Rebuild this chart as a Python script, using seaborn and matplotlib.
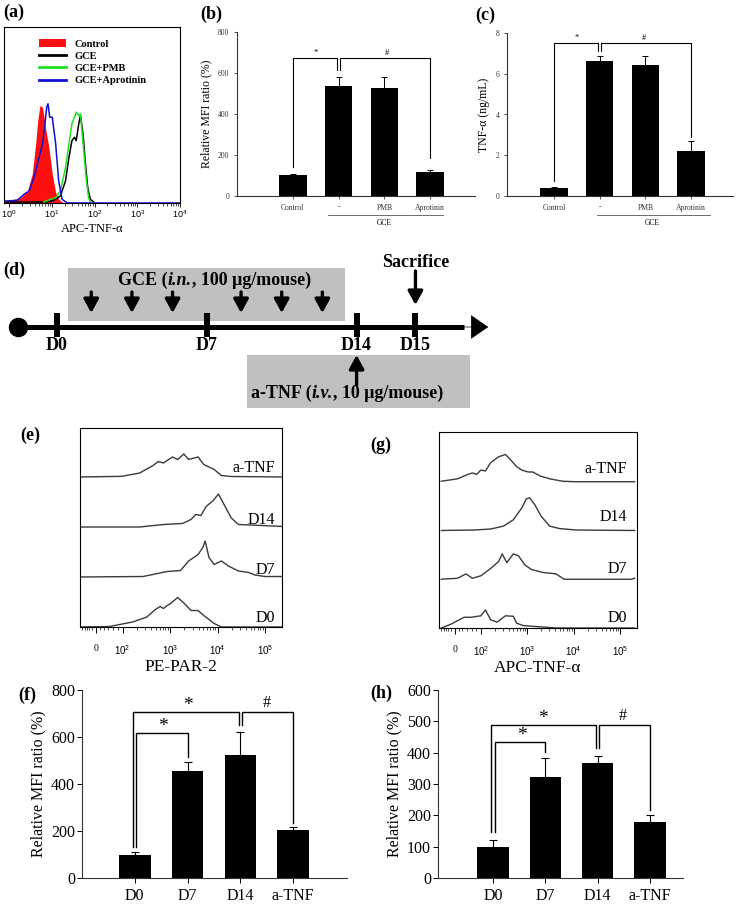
import numpy as np
import matplotlib
matplotlib.use("Agg")
import matplotlib.pyplot as plt
import seaborn as sns
from matplotlib.patches import Patch, Rectangle
from matplotlib.lines import Line2D

# ---------------- data ----------------
# (a) flow histograms, x = log10(APC-TNF-a), y = events (a.u.)
a_ctrl_x = [-0.08, 0.12, 0.27, 0.43, 0.54, 0.62, 0.67, 0.72, 0.78, 0.85, 0.93, 1.01, 1.09, 1.16, 1.28]
a_ctrl_y = [2, 3.7, 5.3, 12, 28.7, 58.7, 82, 97, 95.3, 75.3, 55.3, 28.7, 10.3, 3.7, 0]
a_gce_x = [-0.1, 0.89, 1.05, 1.20, 1.32, 1.40, 1.47, 1.53, 1.57, 1.63, 1.67, 1.73, 1.78, 1.84, 1.90, 1.98]
a_gce_y = [1, 1, 2.7, 7, 22, 45.3, 62, 65.3, 62, 78.7, 87, 68.7, 42, 15.3, 3.7, 1]
a_pmb_x = [0.81, 0.97, 1.09, 1.20, 1.32, 1.40, 1.47, 1.53, 1.57, 1.63, 1.67, 1.74, 1.81, 1.86, 1.90]
a_pmb_y = [1, 3.7, 5.3, 12, 35.3, 58.7, 78.7, 85.3, 90.3, 87, 88.7, 55.3, 22, 5.3, 1]
a_apr_x = [-0.08, 0.19, 0.35, 0.47, 0.58, 0.70, 0.78, 0.83, 0.88, 0.91, 0.95, 1.01, 1.09, 1.16, 1.24, 1.36, 4.0]
a_apr_y = [2, 2.7, 8.7, 12, 25.3, 45.3, 58.7, 75.3, 95.3, 98.7, 85.3, 85.3, 58.7, 22, 3.7, 0, 0]

# (b) relative MFI ratio
b_groups = ["Control", "-", "PMB", "Aprotinin"]
b_mean = [100, 535, 525, 115]
b_err = [6, 45, 55, 10]

# (c) TNF-a (ng/mL)
c_groups = ["Control", "-", "PMB", "Aprotinin"]
c_mean = [0.38, 6.65, 6.45, 2.2]
c_err = [0.08, 0.2, 0.4, 0.5]

# (d) timeline (days)
tl_labels = ["D0", "D7", "D14", "D15"]
tl_pos = [0, 7, 14, 16.75]
gce_doses = [1.6, 3.5, 5.4, 8.6, 10.5, 12.4]
gce_window = (0.51, 13.46)
atnf_window = (8.88, 19.3)
gce_text = [("GCE (", "normal"), ("i.n.", "italic"), (", 100 μg/mouse)", "normal")]
atnf_text = [("a-TNF (", "normal"), ("i.v.", "italic"), (", 10 μg/mouse)", "normal")]

# (e) PE-PAR-2 histograms, x = decade position, y = normalised height
e_tracks = ["D0", "D7", "D14", "a-TNF"]
e_x = [
    [1.08, 1.72, 2.21, 2.51, 2.69, 2.79, 2.86, 2.94, 3.01, 3.16, 3.29, 3.44, 3.59, 3.71, 3.93, 4.08, 5.4],
    [1.08, 2.43, 2.94, 3.22, 3.39, 3.59, 3.69, 3.74, 3.82, 3.93, 4.08, 4.23, 4.44, 4.66, 4.79, 5.0, 5.4],
    [1.08, 2.36, 2.86, 3.26, 3.44, 3.54, 3.65, 3.76, 3.91, 4.02, 4.12, 4.29, 4.44, 4.93, 5.4],
    [1.08, 1.98, 2.36, 2.64, 2.75, 2.86, 3.05, 3.16, 3.29, 3.39, 3.59, 3.71, 3.93, 4.08, 4.29, 5.4],
]
e_y = [
    [0, 0.01, 0.1, 0.2, 0.35, 0.41, 0.37, 0.43, 0.47, 0.59, 0.48, 0.33, 0.33, 0.23, 0.07, 0, 0],
    [0, 0.01, 0.11, 0.13, 0.32, 0.45, 0.59, 0.72, 0.39, 0.25, 0.32, 0.22, 0.12, 0.09, 0.04, 0.01, 0.01],
    [0, 0, 0.05, 0.07, 0.15, 0.25, 0.23, 0.41, 0.53, 0.66, 0.48, 0.18, 0.05, 0.03, 0.01],
    [0, 0.013, 0.08, 0.23, 0.31, 0.28, 0.4, 0.35, 0.46, 0.35, 0.4, 0.25, 0.15, 0.03, 0.01, 0],
]

# (g) APC-TNF-a histograms
g_x = [
    [1.15, 1.36, 1.64, 1.79, 2.0, 2.10, 2.21, 2.35, 2.53, 2.70, 2.77, 2.91, 3.33, 3.62, 5.31],
    [1.15, 1.50, 1.68, 1.82, 2.0, 2.21, 2.38, 2.46, 2.56, 2.70, 2.81, 2.95, 3.09, 3.33, 3.62, 3.79, 4.18, 5.24, 5.31],
    [1.15, 1.86, 2.21, 2.49, 2.70, 2.88, 2.98, 3.05, 3.16, 3.30, 3.48, 3.69, 4.04, 5.31],
    [1.15, 1.50, 1.72, 1.82, 1.91, 2.0, 2.10, 2.21, 2.38, 2.53, 2.63, 2.77, 2.88, 3.02, 3.12, 3.27, 3.48, 3.76, 4.04, 5.31],
]
g_y = [
    [0, 0.08, 0.22, 0.22, 0.25, 0.37, 0.17, 0.12, 0.25, 0.24, 0.1, 0.05, 0.02, 0, 0],
    [0, 0.02, 0.11, 0.02, 0.07, 0.22, 0.36, 0.52, 0.34, 0.52, 0.48, 0.29, 0.2, 0.14, 0.11, 0, 0, 0, 0.02],
    [0, 0.01, 0.03, 0.09, 0.22, 0.46, 0.65, 0.67, 0.53, 0.29, 0.09, 0.04, 0.01, 0],
    [0.01, 0.06, 0.15, 0.18, 0.15, 0.24, 0.22, 0.39, 0.51, 0.56, 0.46, 0.31, 0.24, 0.2, 0.2, 0.12, 0.06, 0.01, 0, 0],
]

# (f) PAR-2 relative MFI, (h) TNF-a relative MFI
days = ["D0", "D7", "D14", "a-TNF"]
f_mean = [100, 455, 522, 205]
f_err = [10, 40, 100, 12]
h_mean = [100, 322, 368, 180]
h_err = [22, 60, 20, 20]

# ---------------- style ----------------
plt.rcParams["font.family"] = ["Liberation Serif", "DejaVu Serif"]
plt.rcParams["mathtext.fontset"] = "custom"
plt.rcParams["mathtext.rm"] = "Liberation Sans"

W, H = 740, 905
fig = plt.figure(figsize=(W / 100, H / 100), dpi=100)


def px_axes(l, t, r, b):
    return fig.add_axes([l / W, 1 - b / H, (r - l) / W, (b - t) / H])


def panel_label(s, x, y):
    fig.text(x / W, 1 - y / H, s, fontsize=13, fontweight="bold", ha="left", va="center")


def bracket(ax, x0, x1, top, b0, b1, lw=1.0):
    ax.plot([x0, x0, x1, x1], [b0, top, top, b1], color="black", lw=lw, solid_joinstyle="miter")


def rich_text(ax, x, y, parts, size):
    # bold text pieces written one after another, some in italics
    prev = None
    for s, style in parts:
        if prev is None:
            prev = ax.text(x, y, s, fontsize=size, fontweight="bold", style=style,
                           ha="left", va="center")
        else:
            prev = ax.annotate(s, xy=(1, 0), xycoords=prev, fontsize=size, fontweight="bold",
                               style=style, ha="left", va="bottom")


def bar_panel(ax, cats, mean, err, cap, lw):
    sns.barplot(x=cats, y=mean, color="black", width=0.6, errorbar=None, saturation=1, ax=ax)
    n = len(cats)
    ax.errorbar(np.arange(n), mean, yerr=[np.zeros(n), err], fmt="none", ecolor="black",
                elinewidth=lw, capsize=cap, capthick=lw)
    sns.despine(ax=ax)
    for s in ["left", "bottom"]:
        ax.spines[s].set_linewidth(0.8)
        ax.spines[s].set_color("#333333")


# ---------------- (a) ----------------
ax = px_axes(4, 27, 180, 203)
ax.fill_between(a_ctrl_x, a_ctrl_y, color="#ff1010", lw=0)
ax.plot(a_gce_x, a_gce_y, color="black", lw=1.1)
ax.plot(a_pmb_x, a_pmb_y, color="#22e022", lw=1.1)
ax.plot(a_apr_x, a_apr_y, color="#1010d0", lw=1.1)
ax.set_xlim(-0.12, 4.0)
ax.set_ylim(0, 175)
ax.set_yticks([])
ax.set_xticks([0, 1, 2, 3, 4])
ax.set_xticklabels([r"$10^{%d}$" % k for k in range(5)], fontsize=6.5)
ax.set_xticks([np.log10(m) + k for k in range(4) for m in range(2, 10)], minor=True)
ax.tick_params(axis="x", which="major", length=3, pad=1, width=0.6)
ax.tick_params(axis="x", which="minor", length=1.8, width=0.5)
ax.set_xlabel("APC-TNF-α", fontsize=9, labelpad=2)
for s in ax.spines.values():
    s.set_linewidth(0.8)
handles = [Patch(facecolor="#ff1010", edgecolor="none"),
           Line2D([], [], color="black", lw=2),
           Line2D([], [], color="#22e022", lw=2),
           Line2D([], [], color="#1010d0", lw=2)]
ax.legend(handles, ["Control", "GCE", "GCE+PMB", "GCE+Aprotinin"], loc="upper left",
          bbox_to_anchor=(0.17, 0.96), frameon=False, prop={"weight": "bold", "size": 7.5},
          handlelength=2.6, handleheight=0.8, labelspacing=0.25, handletextpad=0.8, borderpad=0)
panel_label("(a)", 3, 12)

# ---------------- (b) ----------------
ax = px_axes(237, 32, 475, 196)
bar_panel(ax, b_groups, b_mean, b_err, cap=2, lw=0.7)
ax.set_xlim(-1.22, 3.98)
ax.set_ylim(0, 800)
ax.set_yticks([0, 200, 400, 600, 800])
ax.tick_params(labelsize=5.5, length=2, width=0.6, colors="#333333")
ax.set_ylabel("Relative MFI ratio (%)", fontsize=8.5, labelpad=4)
bracket(ax, 0, 0.97, 673, 140, 615, lw=0.8)
bracket(ax, 1.03, 3, 673, 615, 185, lw=0.8)
ax.text(0.5, 680, "*", fontsize=6, ha="center", va="bottom")
ax.text(2.05, 680, "#", fontsize=6, ha="center", va="bottom")
ax.plot([0.77, 3.28], [-0.116, -0.116], color="#555555", lw=0.6, clip_on=False,
        transform=ax.get_xaxis_transform())
ax.text(2.0, -0.165, "GCE", fontsize=5.5, ha="center", va="center", transform=ax.get_xaxis_transform())
panel_label("(b)", 200, 14)

# ---------------- (c) ----------------
ax = px_axes(507, 33, 733, 196)
bar_panel(ax, c_groups, c_mean, c_err, cap=2, lw=0.7)
ax.set_xlim(-1.03, 3.92)
ax.set_ylim(0, 8)
ax.set_yticks([0, 2, 4, 6, 8])
ax.tick_params(labelsize=5.5, length=2, width=0.6, colors="#333333")
ax.set_ylabel("TNF-α (ng/mL)", fontsize=8.5, labelpad=4)
bracket(ax, 0, 0.97, 7.5, 0.75, 7.1, lw=0.8)
bracket(ax, 1.03, 3, 7.5, 7.1, 2.9, lw=0.8)
ax.text(0.5, 7.55, "*", fontsize=6, ha="center", va="bottom")
ax.text(1.97, 7.55, "#", fontsize=6, ha="center", va="bottom")
ax.plot([0.94, 3.41], [-0.116, -0.116], color="#555555", lw=0.6, clip_on=False,
        transform=ax.get_xaxis_transform())
ax.text(2.15, -0.165, "GCE", fontsize=5.5, ha="center", va="center", transform=ax.get_xaxis_transform())
panel_label("(c)", 475, 15)

# ---------------- (d) timeline ----------------
ax = px_axes(0, 250, 500, 415)
ax.axis("off")
ax.set_xlim(-57 / 21.4, 443 / 21.4)
ax.set_ylim(-88, 77)
ax.add_patch(Rectangle((gce_window[0], 6), gce_window[1] - gce_window[0], 53, color="#c0c0c0", lw=0))
ax.add_patch(Rectangle((atnf_window[0], -81), atnf_window[1] - atnf_window[0], 53, color="#c0c0c0", lw=0))
ax.plot([-1.82, 19.0], [0, 0], color="black", lw=3.6, solid_capstyle="butt")
ax.annotate("", xy=(20.15, 0), xytext=(18.9, 0),
            arrowprops=dict(arrowstyle="-|>,head_length=0.65,head_width=0.45", mutation_scale=18,
                            color="black", lw=0.5, shrinkA=0, shrinkB=0))
ax.plot([-1.82], [0], "o", ms=13, color="black")
for lab, p in zip(tl_labels, tl_pos):
    ax.plot([p, p], [-10, 14], color="black", lw=4.3, solid_capstyle="butt")
    ax.text(p, -18, lab, fontsize=13, fontweight="bold", ha="center", va="center")
arrow_kw = dict(arrowstyle="-|>,head_length=0.55,head_width=0.3", mutation_scale=15,
                color="black", lw=2.4, shrinkA=0, shrinkB=0)
for p in gce_doses:
    ax.annotate("", xy=(p, 14), xytext=(p, 35), arrowprops=arrow_kw)
ax.annotate("", xy=(tl_pos[3], 22), xytext=(tl_pos[3], 56), arrowprops=arrow_kw)
ax.annotate("", xy=(tl_pos[2], -28), xytext=(tl_pos[2], -58), arrowprops=arrow_kw)
ax.text(tl_pos[3], 65, "Sacrifice", fontsize=13, fontweight="bold", ha="center", va="center")
rich_text(ax, 2.85, 47, gce_text, 13)
rich_text(ax, 9.05, -66, atnf_text, 13)
panel_label("(d)", 3, 270)


# ---------------- (e), (g) stacked histograms ----------------
def hist_panel(ax, xs, ys, top, lab_x, lab_y, xlabel):
    for i, (x, y) in enumerate(zip(xs, ys)):
        sns.lineplot(x=x, y=np.array(y) + i, ax=ax, color="#3a3a3a", lw=1.0, sort=False, estimator=None)
        ax.text(lab_x, lab_y[i], e_tracks[i], fontsize=11.5, ha="right", va="center")
    ax.set_xlim(1.1, 5.36)
    ax.set_ylim(0, top)
    ax.set_yticks([])
    ax.set_ylabel("")
    ax.set_xticks([1.44, 2, 3, 4, 5])
    ax.set_xticklabels(["0", r"$10^{2}$", r"$10^{3}$", r"$10^{4}$", r"$10^{5}$"], fontsize=7)
    minor = [1.15, 1.2, 1.25, 1.3, 1.35, 1.52, 1.6, 1.7, 1.8, 1.9]
    minor += [np.log10(m) + k for k in range(2, 5) for m in range(2, 10)]
    ax.set_xticks(minor, minor=True)
    ax.tick_params(axis="x", which="major", length=4, width=0.7, pad=8)
    ax.tick_params(axis="x", which="minor", length=2.2, width=0.5)
    ax.set_xlabel(xlabel, fontsize=12.5, labelpad=1)
    for s in ax.spines.values():
        s.set_linewidth(0.8)


ax = px_axes(80, 428, 282, 627)
hist_panel(ax, e_x, e_y, 3.98, 5.21, [0.18, 1.14, 2.14, 3.18], "PE-PAR-2")
panel_label("(e)", 20, 435)

ax = px_axes(439, 432, 637, 628)
hist_panel(ax, g_x, g_y, 4.02, 5.15, [0.2, 1.22, 2.27, 3.27], "APC-TNF-α")
panel_label("(g)", 370, 445)

# ---------------- (f), (h) ----------------
ax = px_axes(82, 690, 347, 878)
bar_panel(ax, days, f_mean, f_err, cap=3, lw=0.8)
ax.set_xlim(-1.0, 4.02)
ax.set_ylim(0, 800)
ax.set_yticks([0, 200, 400, 600, 800])
ax.tick_params(labelsize=11.5, length=3.5, width=0.7)
ax.tick_params(axis="y", pad=1.5)
ax.set_ylabel("Relative MFI ratio (%)", fontsize=11.5, labelpad=3)
bracket(ax, -0.03, 1.97, 707, 132, 651)
bracket(ax, 0.03, 1.0, 617, 132, 515)
bracket(ax, 2.03, 3.0, 707, 651, 234)
ax.text(1.0, 697, "*", fontsize=14, ha="center", va="bottom")
ax.text(0.53, 607, "*", fontsize=14, ha="center", va="bottom")
ax.text(2.5, 712, "#", fontsize=11.5, ha="center", va="bottom")
panel_label("(f)", 18, 695)

ax = px_axes(438, 690, 683, 878)
bar_panel(ax, days, h_mean, h_err, cap=3, lw=0.8)
ax.set_xlim(-1.05, 3.63)
ax.set_ylim(0, 600)
ax.set_yticks([0, 100, 200, 300, 400, 500, 600])
ax.tick_params(labelsize=11.5, length=3.5, width=0.7)
ax.tick_params(axis="y", pad=1.5)
ax.set_ylabel("Relative MFI ratio (%)", fontsize=11.5, labelpad=3)
bracket(ax, -0.03, 1.97, 488, 147, 415)
bracket(ax, 0.03, 1.0, 434, 147, 402)
bracket(ax, 2.03, 3.0, 488, 415, 217)
ax.text(0.95, 481, "*", fontsize=14, ha="center", va="bottom")
ax.text(0.55, 427, "*", fontsize=14, ha="center", va="bottom")
ax.text(2.48, 492, "#", fontsize=11.5, ha="center", va="bottom")
panel_label("(h)", 370, 693)

fig.savefig("out.png", dpi=100)
